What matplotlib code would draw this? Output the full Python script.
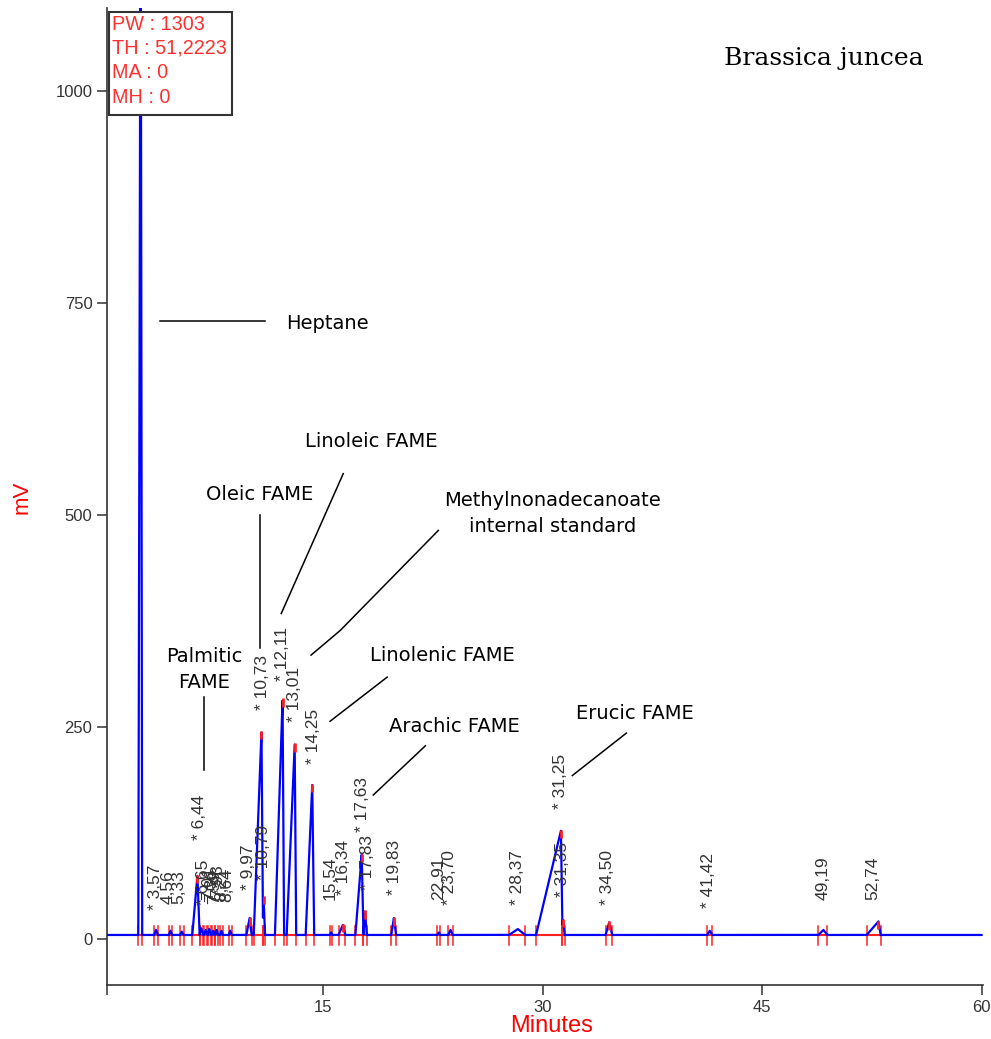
import numpy as np
import matplotlib
matplotlib.use("Agg")
import matplotlib.pyplot as plt
from matplotlib.patches import Rectangle

# ---- chromatogram peaks: start / apex / end (min) and apex height above baseline (mV)
peak_start = [2.36, 3.45, 4.45, 5.22, 6.05, 6.55, 6.85, 7.12, 7.38, 7.62, 7.95, 8.55,
              9.75, 10.25, 10.85, 11.70, 12.50, 13.80, 15.45, 16.05, 17.20, 17.75,
              19.65, 22.80, 23.55, 27.70, 29.55, 31.30, 34.30, 41.25, 48.85, 52.15]
peak_apex = [2.52, 3.57, 4.56, 5.33, 6.40, 6.65, 6.96, 7.21, 7.48, 7.71, 8.04, 8.64,
             9.97, 10.78, 10.92, 12.22, 13.05, 14.25, 15.54, 16.34, 17.63, 17.85,
             19.83, 22.91, 23.70, 28.30, 31.25, 31.38, 34.55, 41.42, 49.19, 52.95]
peak_end = [2.62, 3.70, 4.68, 5.45, 6.55, 6.80, 7.08, 7.32, 7.58, 7.82, 8.15, 8.75,
            10.10, 10.88, 11.02, 12.32, 13.15, 14.38, 15.62, 16.50, 17.75, 17.98,
            19.98, 23.00, 23.85, 28.80, 31.35, 31.50, 34.75, 41.60, 49.45, 53.10]
peak_height = [1300, 6, 5, 4, 70, 8, 6, 7, 5, 6, 5, 5,
               20, 240, 45, 278, 225, 177, 3, 12, 95, 28,
               20, 3, 6, 7, 123, 18, 15, 5, 6, 16]
baseline_mv = 5.0

# ---- retention-time labels printed above the peaks
label_text = ["* 3,57", "4,56", "5,33", "* 6,44", "* 6,65", "7,01", "7,36", "7,59",
              "7,93", "8,21", "8,64", "* 9,97", "* 10,73", "* 10,79", "* 12,11",
              "* 13,01", "* 14,25", "15,54", "* 16,34", "* 17,63", "* 17,83",
              "* 19,83", "22,91", "* 23,70", "* 28,37", "* 31,25", "* 31,35",
              "* 34,50", "* 41,42", "49,19", "52,74"]
label_x = [3.55, 4.40, 5.10, 6.55, 6.85, 7.15, 7.40, 7.60, 7.80, 8.05, 8.40, 9.90,
           10.82, 10.95, 12.25, 13.05, 14.35, 15.45, 16.40, 17.70, 18.00,
           19.86, 22.86, 23.60, 28.27, 31.20, 31.35, 34.40, 41.33, 49.20, 52.55]
label_y = [34, 42, 42, 117, 40, 46, 44, 42, 48, 45, 44, 58,
           270, 70, 305, 256, 207, 46, 52, 126, 58,
           52, 46, 40, 40, 154, 50, 40, 37, 46, 46]

# ---- compound annotations: text, text position, leader line vertices
ann_text = ["Heptane", "Oleic FAME", "Linoleic FAME",
            "Methylnonadecanoate\ninternal standard", "Palmitic\nFAME",
            "Linolenic FAME", "Arachic FAME", "Erucic FAME"]
ann_x = [12.48, 10.62, 18.28, 30.66, 6.86, 23.14, 23.96, 36.27]
ann_y = [726, 524, 587, 502, 318, 334, 251, 266]
ann_ha = ["left", "center", "center", "center", "center", "center", "center", "center"]
lead_x = [[3.85, 11.03], [10.69, 10.69], [16.37, 12.13], [22.87, 16.16, 14.17],
          [6.86, 6.86], [19.37, 15.47], [21.98, 18.42], [35.72, 32.03]]
lead_y = [[729, 729], [500, 343], [549, 384], [482, 364, 335],
          [285, 199], [309, 257], [228, 170], [243, 193]]

info_lines = ["PW : 1303", "TH : 51,2223", "MA : 0", "MH : 0"]

W, H = 991, 1039
fig = plt.figure(figsize=(W / 100, H / 100), dpi=100)
fig.patch.set_facecolor("white")
ax = fig.add_axes([107 / W, 54 / H, 876 / W, 977 / H])
ax.set_xlim(0.22, 60.1)
ax.set_ylim(-54, 1098)

# signal trace built from the peak table
t = np.linspace(0.22, 60.0, 12000)
signal = np.full_like(t, baseline_mv)
for s, a, e, h in zip(peak_start, peak_apex, peak_end, peak_height):
    signal += np.interp(t, [s, a, e], [0, h, 0], left=0, right=0)

# integration baselines and boundary markers (red)
for s, e in zip(peak_start, peak_end):
    ax.plot([s, e], [baseline_mv, baseline_mv], color="#ff2020", lw=1.5, zorder=2)
    for b in (s, e):
        ax.plot([b, b], [-7, 15], color="#ff2020", lw=1.1, zorder=2)

ax.plot(t, signal, color="#0000ff", lw=1.6, zorder=3, clip_on=True)

for a, h in zip(peak_apex, peak_height):
    if h > 10:
        ax.plot([a, a], [baseline_mv + h - 9, baseline_mv + h + 1],
                color="#ff2020", lw=2.0, zorder=4, solid_capstyle="butt")

for txt, x, y in zip(label_text, label_x, label_y):
    ax.text(x, y, txt, rotation=90, ha="center", va="bottom", fontsize=12.5,
            family="Liberation Sans", color="#333333", zorder=5)

for txt, x, y, ha in zip(ann_text, ann_x, ann_y, ann_ha):
    ax.text(x, y, txt, ha=ha, va="center", fontsize=14, family="DejaVu Sans",
            color="black", linespacing=1.45, zorder=5)
for xs, ys in zip(lead_x, lead_y):
    ax.plot(xs, ys, color="black", lw=1.1, zorder=5)

ax.text(49.2, 1039, "Brassica juncea", ha="center", va="center",
        fontsize=18, family="DejaVu Serif", color="black")

# axes styling
for side in ("top", "right"):
    ax.spines[side].set_visible(False)
for side in ("left", "bottom"):
    ax.spines[side].set_color("#333333")
    ax.spines[side].set_linewidth(1.2)
ax.set_xticks([0.22, 15, 30, 45, 60])
ax.set_xticklabels(["", "15", "30", "45", "60"])
ax.set_yticks([0, 250, 500, 750, 1000])
ax.tick_params(axis="both", direction="out", length=7, width=1.1, color="#333333",
               labelsize=12, labelcolor="#333333")
for lab in ax.get_xticklabels() + ax.get_yticklabels():
    lab.set_family("Liberation Sans")
ax.set_xlabel("Minutes", color="red", fontsize=17, family="Liberation Sans")
ax.xaxis.set_label_coords(0.508, -0.042)
ax.set_ylabel("mV", color="red", fontsize=16, family="Liberation Sans")
ax.yaxis.set_label_coords(-0.097, 0.4995)
ax.xaxis.label.set_va("center")
ax.yaxis.label.set_va("center")

# parameter box in the upper left
fig.patches.append(Rectangle((109 / W, 1 - 115 / H), 123 / W, 103 / H,
                             transform=fig.transFigure, facecolor="white",
                             edgecolor="#333333", lw=1.5, zorder=10))
for i, line in enumerate(info_lines):
    fig.text(112 / W, 1 - (24 + 24.5 * i) / H, line, ha="left", va="center",
             fontsize=14.3, family="Liberation Sans", color="#ff3030", zorder=11)

fig.savefig("out.png", dpi=100)
